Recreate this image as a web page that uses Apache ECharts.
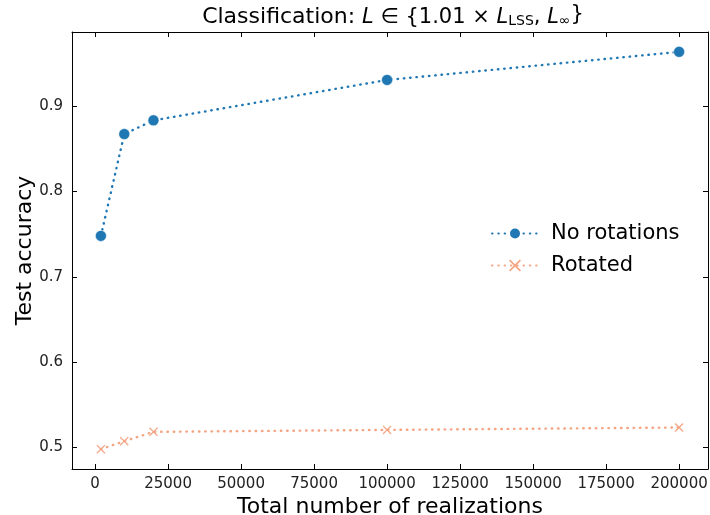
<!DOCTYPE html>
<html>
<head>
<meta charset="utf-8">
<script src="https://cdn.jsdelivr.net/npm/echarts@6/dist/echarts.min.js"></script>
<style>html,body{margin:0;padding:0;background:#fff}#c{width:710px;height:515px}</style>
</head>
<body>
<div id="c"></div>
<script>
const realizations = [2000, 10000, 20000, 100000, 200000];
const noRotations = [0.748, 0.8675, 0.8836, 0.931, 0.964];
const rotated = [0.4977, 0.507, 0.518, 0.5203, 0.5231];
const xTicks = [0, 25000, 50000, 75000, 100000, 125000, 150000, 175000, 200000];
const yTicks = [0.5, 0.6, 0.7, 0.8, 0.9];
const xRange = [-7900, 209900];
const yRange = [0.4744, 0.9873];

const FONT = 'DejaVu Sans';
const xPath = 'path://M1,0 L5,4 L9,0 L10,1 L6,5 L10,9 L9,10 L5,6 L1,10 L0,9 L4,5 L0,1 Z';

const chart = echarts.init(document.getElementById('c'), null, {renderer: 'canvas'});

function xAxisCfg(pos, withLabels) {
  return {
    type: 'value', position: pos, min: xRange[0], max: xRange[1],
    axisLine: {show: true, onZero: false, lineStyle: {color: '#000', width: 1}},
    axisTick: {show: true, inside: true, length: 5, customValues: xTicks, lineStyle: {color: '#000'}},
    axisLabel: withLabels ? {show: true, customValues: xTicks, fontFamily: FONT, fontSize: 15, color: '#222', margin: 8,
      formatter: v => String(v)} : {show: false},
    splitLine: {show: false},
    name: withLabels ? 'Total number of realizations' : '',
    nameLocation: 'middle', nameGap: 27, nameMoveOverlap: false,
    nameTextStyle: {fontFamily: FONT, fontSize: 22, color: '#000'}
  };
}
function yAxisCfg(pos, withLabels) {
  return {
    type: 'value', position: pos, min: yRange[0], max: yRange[1],
    axisLine: {show: true, onZero: false, lineStyle: {color: '#000', width: 1}},
    axisTick: {show: true, inside: true, length: 5, customValues: yTicks, lineStyle: {color: '#000'}},
    axisLabel: withLabels ? {show: true, customValues: yTicks, fontFamily: FONT, fontSize: 15, color: '#222', margin: 9,
      formatter: v => v.toFixed(1)} : {show: false},
    splitLine: {show: false},
    name: withLabels ? 'Test accuracy' : '',
    nameLocation: 'middle', nameGap: 36, nameRotate: 90, nameMoveOverlap: false,
    nameTextStyle: {fontFamily: FONT, fontSize: 22, color: '#000'}
  };
}

const dotted = [0.5, 5.8];

chart.setOption({
  animation: false,
  backgroundColor: '#fff',
  title: {
    text: '{c|Classification: }{i|L}{n| ∈ {1.01 × }{i|L}{s|LSS}{n|, }{i|L}{s|∞}}',
    left: 388, textAlign: 'center', top: -3,
    textStyle: {
      fontFamily: FONT, fontSize: 21, color: '#000', fontWeight: 'normal', lineHeight: 26, verticalAlign: 'bottom',
      rich: {
        c: {fontFamily: FONT, fontSize: 22, color: '#000', lineHeight: 26, verticalAlign: 'bottom'},
        n: {fontFamily: FONT, fontSize: 21, color: '#000', lineHeight: 26, verticalAlign: 'bottom'},
        i: {fontFamily: FONT, fontSize: 21, color: '#000', fontStyle: 'italic', lineHeight: 26, verticalAlign: 'bottom'},
        s: {fontFamily: FONT, fontSize: 14, color: '#000', lineHeight: 22, verticalAlign: 'bottom'}
      }
    }
  },
  grid: {left: 72, right: 2, top: 32, bottom: 46, containLabel: false, outerBoundsMode: 'none'},
  legend: {
    orient: 'vertical', left: 486, top: 218,
    itemWidth: 46, itemHeight: 15, itemGap: 11,
    textStyle: {fontFamily: FONT, fontSize: 21, color: '#000', padding: [0, 0, 0, 8]},
    data: ['No rotations', 'Rotated']
  },
  xAxis: [xAxisCfg('bottom', true), xAxisCfg('top', false)],
  yAxis: [yAxisCfg('left', true), yAxisCfg('right', false)],
  series: [
    {
      name: 'No rotations', type: 'line', xAxisIndex: 0, yAxisIndex: 0,
      data: realizations.map((x, i) => [x, noRotations[i]]),
      symbol: 'circle', symbolSize: 11,
      itemStyle: {color: '#1f77b4', borderColor: '#fff', borderWidth: 0.5},
      lineStyle: {color: '#1f77b4', width: 2.4, type: dotted, cap: 'round'}
    },
    {
      name: 'Rotated', type: 'line', xAxisIndex: 0, yAxisIndex: 0,
      data: realizations.map((x, i) => [x, rotated[i]]),
      symbol: xPath, symbolSize: 9,
      itemStyle: {color: '#f5a584'},
      lineStyle: {color: '#f5a584', width: 2.4, type: dotted, cap: 'round'}
    }
  ]
});
</script>
</body>
</html>
